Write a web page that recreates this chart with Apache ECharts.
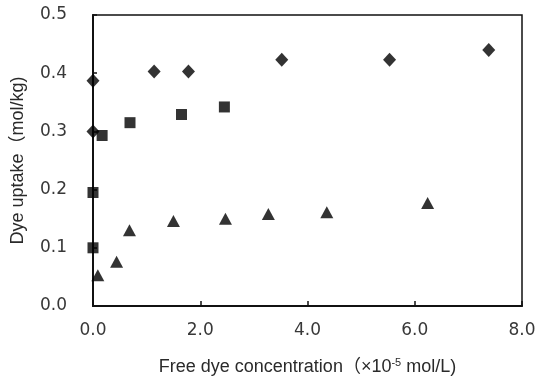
<!DOCTYPE html>
<html>
<head>
<meta charset="utf-8">
<script src="https://cdn.jsdelivr.net/npm/echarts@6/dist/echarts.min.js"></script>
<style>
  html, body { margin: 0; padding: 0; background: #fff; }
  #chart { width: 535px; height: 376px; }
</style>
</head>
<body>
<div id="chart"></div>
<script>
// diamonds
let diamondX = [0.0, 0.0, 1.14, 1.78, 3.52, 5.53, 7.38];
let diamondY = [0.387, 0.300, 0.403, 0.403, 0.423, 0.423, 0.440];
// squares
let squareX = [0.0, 0.0, 0.17, 0.69, 1.65, 2.45];
let squareY = [0.100, 0.195, 0.293, 0.315, 0.329, 0.342];
// triangles
let triX = [0.09, 0.44, 0.68, 1.50, 2.47, 3.27, 4.36, 6.24];
let triY = [0.053, 0.076, 0.130, 0.146, 0.150, 0.158, 0.161, 0.177];

let xTicks = [0, 8, 2];   // min, max, interval
let yTicks = [0, 0.5, 0.1];

function pairs(xs, ys) {
  return xs.map(function (x, i) { return [x, ys[i]]; });
}

let nameFont = "'Liberation Sans', 'Noto Sans CJK JP', sans-serif";
let tickFont = "'DejaVu Sans', sans-serif";

let option = {
  animation: false,
  backgroundColor: '#fff',
  grid: {
    left: 93, right: 13, top: 15, bottom: 70,
    outerBoundsMode: 'none',
    show: true, borderColor: '#111', borderWidth: 1.5
  },
  xAxis: {
    type: 'value',
    min: xTicks[0], max: xTicks[1], interval: xTicks[2],
    name: 'Free dye concentration（×10{sup|-5} mol/L)',
    nameLocation: 'middle',
    nameGap: 51,
    nameTextStyle: {
      fontSize: 18, color: '#2a2a2a', fontFamily: nameFont,
      rich: { sup: { fontSize: 11, verticalAlign: 'top', padding: [0, 0, 10, 0], color: '#2a2a2a', fontFamily: nameFont } }
    },
    axisLine: { lineStyle: { color: '#111', width: 2 } },
    axisTick: { inside: true, length: 5, lineStyle: { color: '#111', width: 1.5 } },
    axisLabel: { fontSize: 17, color: '#383838', fontFamily: tickFont, margin: 16, formatter: function (v) { return v.toFixed(1); } },
    splitLine: { show: false }
  },
  yAxis: {
    type: 'value',
    min: yTicks[0], max: yTicks[1], interval: yTicks[2],
    name: 'Dye uptake（mol/kg)',
    nameLocation: 'middle',
    nameGap: 66,
    nameTextStyle: { fontSize: 18, color: '#2a2a2a', fontFamily: nameFont },
    axisLine: { lineStyle: { color: '#111', width: 2 } },
    axisTick: { inside: true, length: 4, lineStyle: { color: '#111', width: 1.5 } },
    axisLabel: { fontSize: 17, color: '#383838', fontFamily: tickFont, margin: 26, formatter: function (v) { return v.toFixed(1); } },
    splitLine: { show: false }
  },
  series: [
    { type: 'scatter', symbol: 'diamond', symbolSize: [13, 14], itemStyle: { color: '#000' }, data: pairs(diamondX, diamondY) },
    { type: 'scatter', symbol: 'rect', symbolSize: 11, itemStyle: { color: '#000' }, data: pairs(squareX, squareY) },
    { type: 'scatter', symbol: 'triangle', symbolSize: [13, 12], itemStyle: { color: '#000' }, data: pairs(triX, triY) }
  ]
};

let myChart = echarts.init(document.getElementById('chart'));
myChart.setOption(option);
</script>
</body>
</html>
